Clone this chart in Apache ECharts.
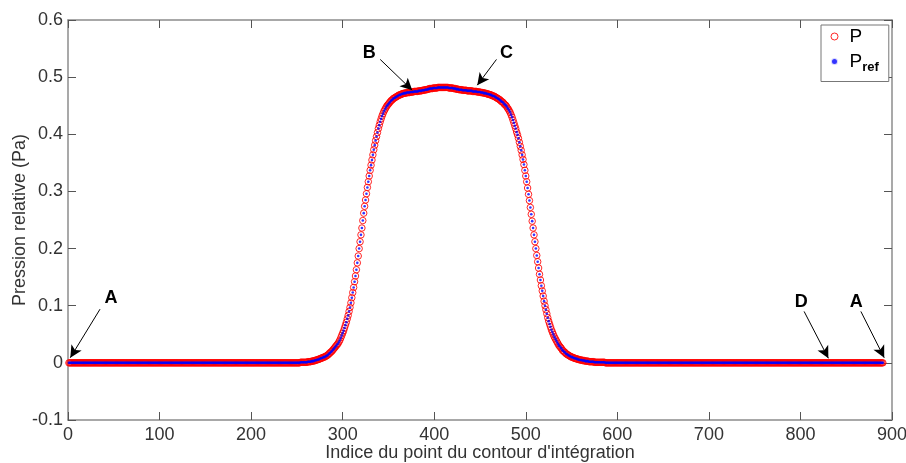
<!DOCTYPE html>
<html>
<head>
<meta charset="utf-8">
<script src="https://cdn.jsdelivr.net/npm/echarts@6/dist/echarts.min.js"></script>
<style>html,body{margin:0;padding:0;background:#fff;overflow:hidden}#c{width:906px;height:463px}</style>
</head>
<body>
<div id="c"></div>
<script>
// first point index
const startIndex = 1;
// indices 1..249
const pLeft = [
0,0,0,0,0, 0,0,0,0,0, 0,0,0,0,0, 0,0,0,0,0, 0,0,0,0,0,
0,0,0,0,0, 0,0,0,0,0, 0,0,0,0,0, 0,0,0,0,0, 0,0,0,0,0,
0,0,0,0,0, 0,0,0,0,0, 0,0,0,0,0, 0,0,0,0,0, 0,0,0,0,0,
0,0,0,0,0, 0,0,0,0,0, 0,0,0,0,0, 0,0,0,0,0, 0,0,0,0,0,
0,0,0,0,0, 0,0,0,0,0, 0,0,0,0,0, 0,0,0,0,0, 0,0,0,0,0,
0,0,0,0,0, 0,0,0,0,0, 0,0,0,0,0, 0,0,0,0,0, 0,0,0,0,0,
0,0,0,0,0, 0,0,0,0,0, 0,0,0,0,0, 0,0,0,0,0, 0,0,0,0,0,
0,0,0,0,0, 0,0,0,0,0, 0,0,0,0,0, 0,0,0,0,0, 0,0,0,0,0,
0,0,0,0,0, 0,0,0,0,0, 0,0,0,0,0, 0,0,0,0,0, 0,0,0,0,0,
0,0,0,0,0, 0,0,0,0,0, 0,0,0,0,0, 0,0,0,0,0, 0,0,0,0
];
// indices 250..589
const pPeak = [
0,0,0,0,0.001,0.001,0.001,0.001,0.001,0.001,
0.001,0.001,0.002,0.002,0.002,0.002,0.003,0.003,0.003,0.004,
0.004,0.005,0.005,0.006,0.006,0.007,0.008,0.008,0.009,0.010,
0.010,0.011,0.012,0.013,0.014,0.016,0.017,0.019,0.020,0.022,
0.024,0.026,0.028,0.030,0.032,0.034,0.037,0.040,0.044,0.048,
0.052,0.056,0.061,0.066,0.071,0.077,0.083,0.090,0.097,0.105,
0.114,0.123,0.132,0.142,0.152,0.163,0.175,0.187,0.200,0.212,
0.224,0.236,0.249,0.262,0.274,0.285,0.296,0.307,0.317,0.327,
0.337,0.346,0.355,0.364,0.373,0.381,0.389,0.396,0.403,0.410,
0.416,0.422,0.427,0.432,0.436,0.440,0.443,0.446,0.449,0.451,
0.453,0.455,0.457,0.459,0.460,0.462,0.463,0.464,0.465,0.466,
0.467,0.468,0.469,0.469,0.470,0.471,0.471,0.472,0.472,0.472,
0.473,0.473,0.473,0.473,0.474,0.474,0.474,0.474,0.475,0.475,
0.475,0.475,0.475,0.476,0.476,0.476,0.476,0.477,0.477,0.477,
0.478,0.478,0.478,0.479,0.479,0.480,0.480,0.480,0.480,0.481,
0.481,0.481,0.481,0.481,0.482,0.482,0.482,0.482,0.482,0.482,
0.482,0.482,0.482,0.482,0.482,0.482,0.481,0.481,0.481,0.481,
0.481,0.480,0.480,0.480,0.479,0.479,0.479,0.478,0.478,0.478,
0.478,0.477,0.477,0.477,0.477,0.477,0.476,0.476,0.476,0.476,
0.476,0.476,0.475,0.475,0.475,0.475,0.475,0.474,0.474,0.474,
0.474,0.473,0.473,0.473,0.472,0.472,0.472,0.471,0.471,0.470,
0.470,0.469,0.469,0.468,0.467,0.467,0.466,0.465,0.464,0.463,
0.462,0.461,0.460,0.458,0.457,0.456,0.454,0.452,0.451,0.449,
0.446,0.444,0.441,0.438,0.434,0.430,0.425,0.420,0.415,0.410,
0.404,0.399,0.393,0.386,0.379,0.372,0.364,0.356,0.347,0.337,
0.327,0.317,0.306,0.295,0.284,0.272,0.260,0.248,0.236,0.224,
0.212,0.200,0.188,0.177,0.166,0.155,0.145,0.135,0.126,0.117,
0.108,0.100,0.093,0.086,0.079,0.073,0.068,0.063,0.058,0.054,
0.050,0.046,0.043,0.040,0.037,0.034,0.031,0.029,0.027,0.025,
0.022,0.021,0.019,0.018,0.016,0.015,0.014,0.013,0.012,0.011,
0.010,0.010,0.009,0.008,0.008,0.007,0.007,0.006,0.006,0.005,
0.005,0.005,0.004,0.004,0.004,0.003,0.003,0.003,0.003,0.002,
0.002,0.002,0.002,0.002,0.002,0.001,0.001,0.001,0.001,0.001,
0.001,0.001,0.001,0.001,0.001,0.001,0.001,0,0,0
];
// indices 590..890
const pRight = [
0,0,0,0,0, 0,0,0,0,0, 0,0,0,0,0, 0,0,0,0,0, 0,0,0,0,0,
0,0,0,0,0, 0,0,0,0,0, 0,0,0,0,0, 0,0,0,0,0, 0,0,0,0,0,
0,0,0,0,0, 0,0,0,0,0, 0,0,0,0,0, 0,0,0,0,0, 0,0,0,0,0,
0,0,0,0,0, 0,0,0,0,0, 0,0,0,0,0, 0,0,0,0,0, 0,0,0,0,0,
0,0,0,0,0, 0,0,0,0,0, 0,0,0,0,0, 0,0,0,0,0, 0,0,0,0,0,
0,0,0,0,0, 0,0,0,0,0, 0,0,0,0,0, 0,0,0,0,0, 0,0,0,0,0,
0,0,0,0,0, 0,0,0,0,0, 0,0,0,0,0, 0,0,0,0,0, 0,0,0,0,0,
0,0,0,0,0, 0,0,0,0,0, 0,0,0,0,0, 0,0,0,0,0, 0,0,0,0,0,
0,0,0,0,0, 0,0,0,0,0, 0,0,0,0,0, 0,0,0,0,0, 0,0,0,0,0,
0,0,0,0,0, 0,0,0,0,0, 0,0,0,0,0, 0,0,0,0,0, 0,0,0,0,0,
0,0,0,0,0, 0,0,0,0,0, 0,0,0,0,0, 0,0,0,0,0, 0,0,0,0,0,
0,0,0,0,0, 0,0,0,0,0, 0,0,0,0,0, 0,0,0,0,0, 0,0,0,0,0,
0
];
const pValues = pLeft.concat(pPeak, pRight);
const prefValues = pValues.slice();

const seriesNames = ['P', 'Pref'];
const xTicks = [0, 100, 200, 300, 400, 500, 600, 700, 800, 900];
const yTicks = [-0.1, 0, 0.1, 0.2, 0.3, 0.4, 0.5, 0.6];

// annotation labels and arrows
const annotLabels = ['A', 'B', 'C', 'D', 'A'];
const annotLabelPos = [[47, 0.114], [329, 0.543], [479, 0.543], [801, 0.106], [861, 0.106]];
const annotArrowFrom = [[35, 0.094], [341, 0.531], [468, 0.531], [804, 0.090], [866, 0.090]];
const annotArrowTo = [[2.5, 0.009], [376, 0.477], [447, 0.486], [830.5, 0.008], [891.5, 0.009]];

const toPairs = arr => arr.map((v, i) => [startIndex + i, v]);

const axisGray = '#8c8c8c';
const txt = '#333';
const font = 'Arial, "Liberation Sans", sans-serif';

const chart = echarts.init(document.getElementById('c'), null, {renderer: 'canvas'});
const fmt = v => (Math.round(v * 10) / 10).toString();

chart.setOption({
  animation: false,
  backgroundColor: '#fff',
  textStyle: {fontFamily: font},
  grid: {left: 68, right: 14, top: 20, bottom: 43, containLabel: false, outerBoundsMode: 'none'},
  xAxis: [{
    type: 'value', min: xTicks[0], max: xTicks[xTicks.length - 1], interval: 100,
    position: 'bottom',
    name: "Indice du point du contour d'intégration", nameLocation: 'middle', nameGap: 24,
    nameMoveOverlap: false,
    nameTextStyle: {fontSize: 18, color: txt, fontFamily: font},
    axisLine: {show: true, onZero: false, lineStyle: {color: axisGray, width: 1.5}},
    axisTick: {show: true, inside: true, length: 8, lineStyle: {color: '#555', width: 1}},
    axisLabel: {fontSize: 18, color: txt, margin: 6, fontFamily: font},
    splitLine: {show: false}
  }, {
    type: 'value', min: xTicks[0], max: xTicks[xTicks.length - 1], interval: 100,
    position: 'top',
    axisLine: {show: true, onZero: false, lineStyle: {color: axisGray, width: 1.5}},
    axisTick: {show: true, inside: true, length: 8, lineStyle: {color: '#555', width: 1}},
    axisLabel: {show: false}, splitLine: {show: false}
  }],
  yAxis: [{
    type: 'value', min: yTicks[0], max: yTicks[yTicks.length - 1], interval: 0.1,
    position: 'left',
    name: 'Pression relative (Pa)', nameLocation: 'middle', nameGap: 39, nameRotate: 90,
    nameMoveOverlap: false,
    nameTextStyle: {fontSize: 18, color: txt, fontFamily: font},
    axisLine: {show: true, onZero: false, lineStyle: {color: axisGray, width: 1.5}},
    axisTick: {show: true, inside: true, length: 8, lineStyle: {color: '#555', width: 1}},
    axisLabel: {fontSize: 18, color: txt, margin: 5, formatter: fmt, fontFamily: font},
    splitLine: {show: false}
  }, {
    type: 'value', min: yTicks[0], max: yTicks[yTicks.length - 1], interval: 0.1,
    position: 'right',
    axisLine: {show: true, onZero: false, lineStyle: {color: axisGray, width: 1.5}},
    axisTick: {show: true, inside: true, length: 8, lineStyle: {color: '#555', width: 1}},
    axisLabel: {show: false}, splitLine: {show: false}
  }],
  legend: {
    orient: 'vertical', left: 821, top: 25,
    backgroundColor: '#fff', borderColor: '#777', borderWidth: 1,
    padding: [2, 10, 8, 9], itemGap: 6,
    itemWidth: 20, itemHeight: 7,
    data: [
      {name: 'P', icon: 'circle', itemStyle: {color: '#fff', borderColor: '#ff0000', borderWidth: 1}},
      {name: 'Pref', icon: 'circle', itemStyle: {color: '#0000ff', borderColor: '#fff', borderWidth: 2}}
    ],
    formatter: n => n === 'Pref' ? '{b|P}{s|ref}' : '{b|P}',
    textStyle: {
      color: '#000',
      rich: {
        b: {fontSize: 19, fontFamily: font, color: '#000', height: 22},
        s: {fontSize: 13, fontWeight: 'bold', fontFamily: font, color: '#000', padding: [11, 0, 0, 0]}
      }
    }
  },
  series: [{
    name: seriesNames[0], type: 'scatter', xAxisIndex: 0, yAxisIndex: 0,
    data: toPairs(pValues), symbol: 'circle', symbolSize: 6.5,
    itemStyle: {color: 'rgba(255,255,255,0)', borderColor: '#ff0000', borderWidth: 1, opacity: 0.85},
    large: false, silent: true
  }, {
    name: seriesNames[1], type: 'scatter', xAxisIndex: 0, yAxisIndex: 0,
    data: toPairs(prefValues), symbol: 'circle', symbolSize: 2.6,
    itemStyle: {color: '#0000ff', borderWidth: 0},
    large: false, silent: true
  }, {
    name: 'annotations', type: 'scatter', xAxisIndex: 0, yAxisIndex: 0,
    data: [], silent: true,
    markLine: {
      silent: true, animation: false,
      symbol: ['none', 'arrow'], symbolSize: [9, 12],
      lineStyle: {color: '#000', width: 1, type: 'solid'},
      label: {show: false},
      data: annotArrowFrom.map((f, i) => [{coord: f}, {coord: annotArrowTo[i]}])
    },
    markPoint: {
      silent: true, animation: false,
      symbol: 'circle', symbolSize: 1, itemStyle: {color: 'rgba(0,0,0,0)'},
      label: {show: true, position: 'inside', color: '#000', fontSize: 18, fontWeight: 'bold', fontFamily: font,
        formatter: p => p.name},
      data: annotLabelPos.map((c, i) => ({name: annotLabels[i], coord: c}))
    }
  }]
});
</script>
</body>
</html>
